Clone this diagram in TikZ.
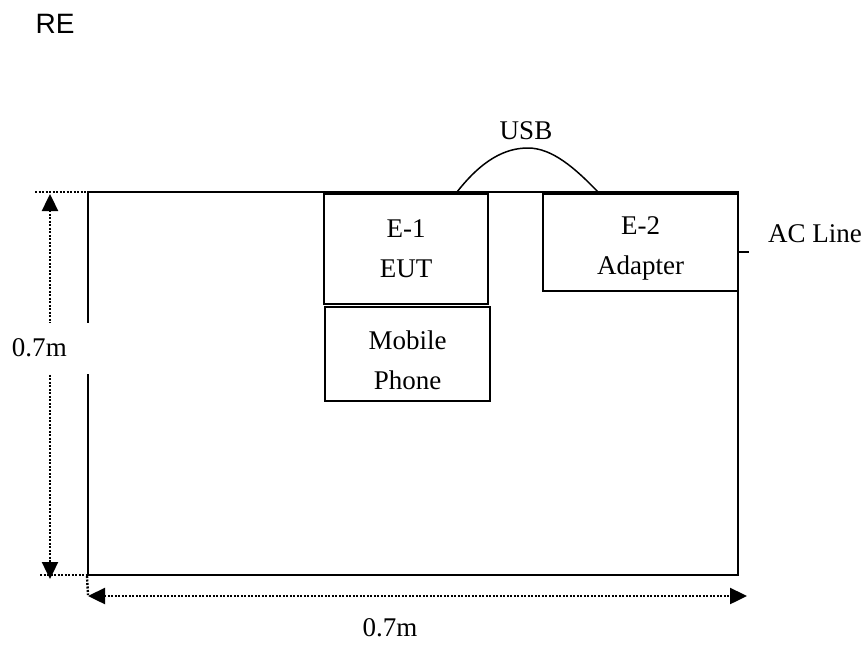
\documentclass[tikz,border=0pt]{standalone}
\usepackage{fontspec}
\setmainfont{Liberation Serif}
\newfontfamily\arialfont{Liberation Sans}
\usetikzlibrary{arrows.meta}

\begin{document}
\begin{tikzpicture}[
  x=1pt,
  y=-1pt,
  line join=miter,
  tableedge/.style={
    draw=black,
    line width=2pt,
    inner sep=0pt
  },
  devbox/.style={
    draw=black,
    line width=1.6pt,
    fill=white,
    align=center,
    inner sep=0pt,
    font=\fontsize{27}{40}\selectfont
  },
  cable/.style={
    draw=black,
    line width=1.5pt
  },
  dimline/.style={
    draw=black,
    line width=2.4pt,
    dash pattern=on 2pt off 1.5pt
  },
  dimarrow/.style={
    dimline,
    {Triangle[length=17pt,width=16pt]}-{Triangle[length=17pt,width=16pt]}
  },
  dimtext/.style={
    font=\fontsize{27}{32}\selectfont,
    inner sep=0pt
  }
]

  % 可调参数
  \def\tabW{650}
  \def\tabH{383}

  % 标题
  \node[
    font=\arialfont\fontsize{28}{32}\selectfont,
    inner sep=0pt
  ] (title) at (55,24) {RE};

  % 桌面
  \node[
    tableedge,
    minimum width=\tabW pt,
    minimum height=\tabH pt
  ] (table) at (413,383.5) {};

  % E-1 EUT
  \node[
    devbox,
    minimum width=164pt,
    minimum height=110pt
  ] (eut) at (406,249) {E-1\\EUT};

  % E-2 Adapter
  \node[
    devbox,
    minimum width=195pt,
    minimum height=97pt
  ] (adapter) at (640.5,242.5) {\rule{0pt}{30pt}E-2\\Adapter};

  % Mobile Phone
  \node[
    devbox,
    minimum width=165pt,
    minimum height=94pt
  ] (phone) at (407.5,354) {\rule{0pt}{31pt}Mobile\\Phone};

  % USB 线
  \coordinate (usbL) at (457,192);
  \coordinate (usbT) at (528,148);
  \coordinate (usbR) at (598,192);

  \draw[cable]
    (usbL) .. controls (482,160) and (505,148) .. (usbT)
    .. controls (552,148) and (575,168) .. (usbR);

  \node[dimtext] (usb) at (526,131) {USB};

  % AC 线
  \coordinate (acA) at (738,252);
  \coordinate (acB) at (749,252);

  \draw[cable] (acA) -- (acB);

  \node[dimtext, anchor=west] (acline) at (768,234) {AC Line};

  % 竖向尺寸
  \coordinate (extTL) at (35,192);
  \coordinate (extTR) at (105,192);
  \coordinate (extBL) at (40,575);
  \coordinate (extBR) at (110,575);
  \coordinate (vtop) at (50,194);
  \coordinate (vbot) at (50,579);

  \draw[dimline] (extTL) -- (extTR);
  \draw[dimline] (extBL) -- (extBR);
  \draw[dimarrow] (vtop) -- (vbot);

  % 横向尺寸
  \coordinate (extV) at (88,595);
  \coordinate (hleft) at (88,596);
  \coordinate (hright) at (747,596);

  \draw[dimline] (table.south west) -- (extV);
  \draw[dimarrow] (hleft) -- (hright);

  % 尺寸标注
  \node[
    dimtext,
    fill=white,
    text width=80pt,
    align=left,
    minimum height=51pt
  ] (vlen) at (52,348) {0.7m};

  \node[dimtext] (hlen) at (390,628) {0.7m};

  \path[use as bounding box]
    (0,0) rectangle (866,645);

\end{tikzpicture}
\end{document}
